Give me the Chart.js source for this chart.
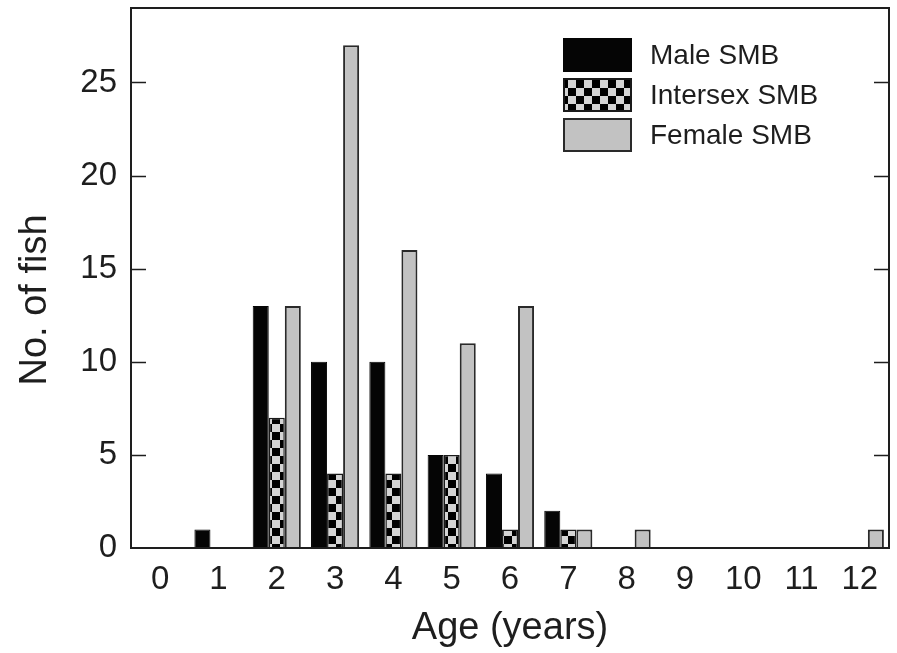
<!DOCTYPE html>
<html>
<head>
<meta charset="utf-8">
<script src="https://cdn.jsdelivr.net/npm/chart.js@4/dist/chart.umd.min.js"></script>
<style>
  html, body { margin: 0; padding: 0; background: #fff; }
  #wrap { width: 897px; height: 653px; position: relative; }
</style>
</head>
<body>
<div id="wrap"><canvas id="c"></canvas></div>
<script>
// Age classes (years) and number of fish per class
const ages = ['0', '1', '2', '3', '4', '5', '6', '7', '8', '9', '10', '11', '12'];
const maleCounts     = [0, 1, 13, 10, 10, 5, 4, 2, 0, 0, 0, 0, 0];
const intersexCounts = [0, 0, 7, 4, 4, 5, 1, 1, 0, 0, 0, 0, 0];
const femaleCounts   = [0, 0, 13, 27, 16, 11, 13, 1, 1, 0, 0, 0, 1];
const yTickValues    = [0, 5, 10, 15, 20, 25];
const seriesNames    = ['Male SMB', 'Intersex SMB', 'Female SMB'];
const yAxisTitle     = 'No. of fish';
const xAxisTitle     = 'Age (years)';

const FONT = "'Liberation Sans', Arial, Helvetica, sans-serif";
const INK = '#1e1e1e';

// checkerboard fill for the intersex series
function checkerPattern() {
  const cell = 8;
  const off = document.createElement('canvas');
  off.width = cell * 2; off.height = cell * 2;
  const g = off.getContext('2d');
  g.fillStyle = '#d4d4d4';
  g.fillRect(0, 0, cell * 2, cell * 2);
  g.fillStyle = '#000';
  g.fillRect(0, 0, cell, cell);
  g.fillRect(cell, cell, cell, cell);
  return g.createPattern(off, 'repeat');
}

// frame around the plot, inward tick marks on both sides, rotated y title
const frameAndTicks = {
  id: 'frameAndTicks',
  afterDraw(chart) {
    const { ctx, chartArea: a, scales: { y } } = chart;
    ctx.save();
    ctx.strokeStyle = INK;
    ctx.lineWidth = 2;
    ctx.strokeRect(a.left, a.top, a.right - a.left, a.bottom - a.top);
    const len = 15;
    ctx.beginPath();
    y.ticks.forEach(t => {
      if (t.value === 0) return;
      const py = Math.round(y.getPixelForValue(t.value)) + 0.5;
      ctx.moveTo(a.left, py); ctx.lineTo(a.left + len, py);
      ctx.moveTo(a.right, py); ctx.lineTo(a.right - len, py);
    });
    ctx.lineWidth = 1.6;
    ctx.stroke();

    // y-axis title, set a little below the plot's mid-height
    ctx.translate(36, (a.top + a.bottom) / 2 + 22);
    ctx.rotate(-Math.PI / 2);
    ctx.font = `38px ${FONT}`;
    ctx.fillStyle = INK;
    ctx.textAlign = 'center';
    ctx.textBaseline = 'middle';
    ctx.fillText(yAxisTitle, 0, 0);
    ctx.restore();
  }
};

// stacked legend in the upper right corner of the plot
const boxLegend = {
  id: 'boxLegend',
  afterDraw(chart) {
    const { ctx, chartArea: a } = chart;
    const bw = 69, bh = 34, step = 40;
    const x0 = a.right - 326, y0 = a.top + 30;
    ctx.save();
    ctx.font = `28px ${FONT}`;
    ctx.textBaseline = 'middle';
    ctx.textAlign = 'left';
    chart.data.datasets.forEach((ds, i) => {
      const by = y0 + i * step;
      ctx.fillStyle = ds.backgroundColor;
      ctx.fillRect(x0, by, bw, bh);
      ctx.strokeStyle = ds.borderColor;
      ctx.lineWidth = 2;
      ctx.strokeRect(x0 + 1, by + 1, bw - 2, bh - 2);
      ctx.fillStyle = INK;
      ctx.fillText(ds.label, x0 + bw + 18, by + bh / 2 + 1);
    });
    ctx.restore();
  }
};

const barShape = { categoryPercentage: 0.825, barPercentage: 1.0, borderSkipped: 'start' };

new Chart(document.getElementById('c'), {
  type: 'bar',
  data: {
    labels: ages,
    datasets: [
      { label: seriesNames[0], data: maleCounts, backgroundColor: '#050505', borderColor: '#050505', borderWidth: 1, ...barShape },
      { label: seriesNames[1], data: intersexCounts, backgroundColor: checkerPattern(), borderColor: '#1a1a1a', borderWidth: 1.5, ...barShape },
      { label: seriesNames[2], data: femaleCounts, backgroundColor: '#c2c2c2', borderColor: '#2a2a2a', borderWidth: 2, ...barShape }
    ]
  },
  options: {
    responsive: true,
    maintainAspectRatio: false,
    animation: false,
    devicePixelRatio: 1,
    layout: { padding: { top: 8, right: 8, left: 0, bottom: 0 } },
    plugins: { legend: { display: false }, tooltip: { enabled: false } },
    scales: {
      x: {
        grid: { display: false, drawTicks: false },
        border: { display: false },
        ticks: { color: INK, font: { family: FONT, size: 33 }, padding: 12, maxRotation: 0, autoSkip: false },
        title: { display: true, text: xAxisTitle, color: INK, font: { family: FONT, size: 38 }, padding: { top: 0, bottom: 2 } },
        afterFit(scale) { scale.height = 105; scale.paddingLeft = 0; scale.paddingRight = 0; }
      },
      y: {
        min: 0,
        max: 29,
        grid: { display: false, drawTicks: false },
        border: { display: false },
        afterBuildTicks(scale) { scale.ticks = yTickValues.map(v => ({ value: v })); },
        ticks: { color: INK, font: { family: FONT, size: 33 }, padding: 14 },
        title: { display: false },
        afterFit(scale) { scale.width = 131; scale.paddingTop = 0; scale.paddingBottom = 0; }
      }
    }
  },
  plugins: [frameAndTicks, boxLegend]
});
</script>
</body>
</html>
